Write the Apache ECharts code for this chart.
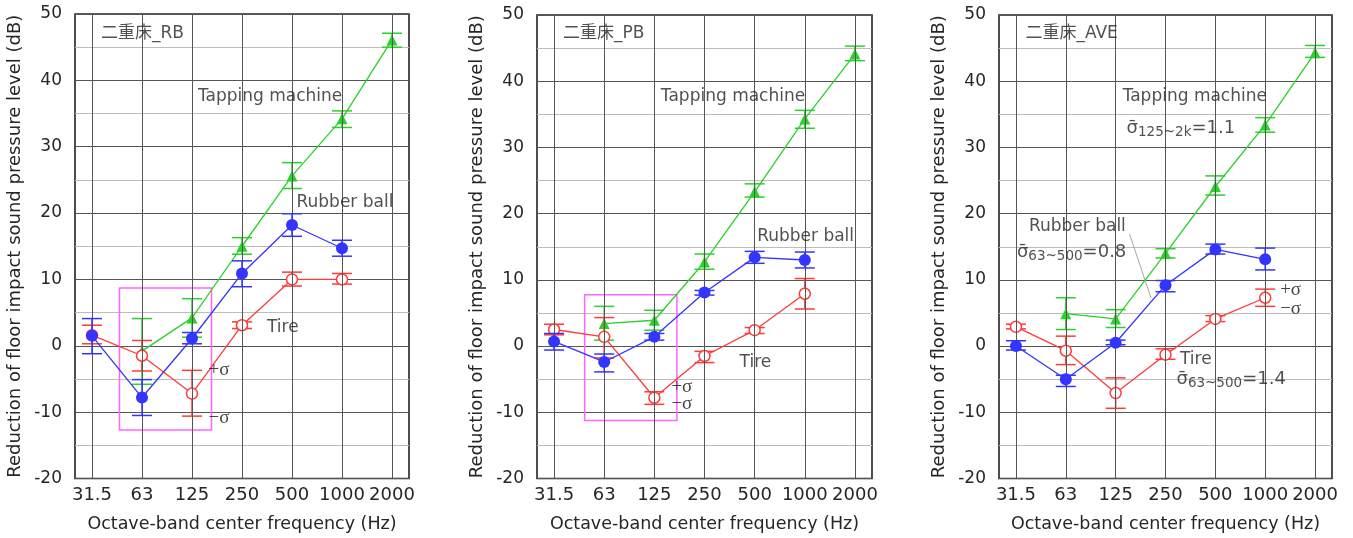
<!DOCTYPE html>
<html><head><meta charset="utf-8">
<script src="https://cdn.jsdelivr.net/npm/echarts@6/dist/echarts.min.js"></script>
<style>html,body{margin:0;padding:0;background:#fff}#c{width:1353px;height:538px}</style>
</head><body><div id="c"></div>
<script>
// ---- data ----
const freqLabels = ['31.5','63','125','250','500','1000','2000'];

// 二重床_RB
const rbRubber   = [1.5, -7.8, 1.1, 10.9, 18.2, 14.7, null];
const rbRubberHi = [4.1, -5.1, 2.0, 12.8, 19.9, 15.9, null];
const rbRubberLo = [-1.2, -10.5, 0.3, 8.9, 16.5, 13.5, null];
const rbTapping   = [null, -0.8, 4.2, 15.0, 25.6, 34.2, 46.1];
const rbTappingHi = [null, 4.1, 7.1, 16.3, 27.6, 35.4, 47.1];
const rbTappingLo = [null, -5.8, 1.3, 13.8, 23.7, 32.9, 45.0];
const rbTire   = [1.6, -1.5, -7.2, 3.1, 10.0, 10.0, null];
const rbTireHi = [3.1, 0.8, -3.7, 3.6, 11.1, 10.9, null];
const rbTireLo = [0.3, -3.8, -10.6, 2.6, 9.0, 9.3, null];

// 二重床_PB
const pbRubber   = [0.7, -2.4, 1.4, 8.1, 13.4, 13.0, null];
const pbRubberHi = [1.9, -1.2, 1.9, 8.4, 14.3, 14.2, null];
const pbRubberLo = [-0.6, -3.9, 0.9, 7.7, 12.5, 11.8, null];
const pbTapping   = [null, 3.4, 3.9, 12.7, 23.3, 34.3, 44.1];
const pbTappingHi = [null, 6.0, 5.4, 13.9, 24.5, 35.6, 45.3];
const pbTappingLo = [null, 0.9, 2.4, 11.6, 22.5, 32.9, 43.1];
const pbTire   = [2.5, 1.4, -7.8, -1.5, 2.4, 7.9, null];
const pbTireHi = [3.3, 4.3, -6.9, -0.8, 2.8, 10.2, null];
const pbTireLo = [1.7, -1.8, -8.8, -2.5, 1.9, 5.6, null];

// 二重床_AVE
const aveRubber   = [0.0, -5.0, 0.5, 9.2, 14.6, 13.1, null];
const aveRubberHi = [0.8, -4.4, 0.9, 9.9, 15.4, 14.8, null];
const aveRubberLo = [-0.6, -6.1, 0.2, 8.2, 13.9, 11.5, null];
const aveTapping   = [null, 4.9, 4.1, 14.0, 24.1, 33.4, 44.3];
const aveTappingHi = [null, 7.3, 5.5, 14.7, 25.7, 34.5, 45.4];
const aveTappingLo = [null, 2.5, 2.8, 13.3, 22.8, 32.3, 43.6];
const aveTire   = [2.9, -0.7, -7.1, -1.3, 4.1, 7.3, null];
const aveTireHi = [3.3, 1.5, -4.8, -0.4, 4.6, 8.6, null];
const aveTireLo = [2.6, -2.8, -9.4, -2.0, 3.7, 6.0, null];

// annotations: [x (band index), y (dB), text, kind]
const rbNotes = [
  [0.17, 47.0, '二重床_RB', 't'],
  [2.11, 37.6, 'Tapping machine', 't'],
  [4.08, 21.6, 'Rubber ball', 't'],
  [3.49, 2.7, 'Tire', 't'],
  [2.32, -3.6, '+σ', 'sig'],
  [2.32, -10.9, '−σ', 'sig']
];
const pbNotes = [
  [0.17, 47.25, '二重床_PB', 't'],
  [2.12, 37.75, 'Tapping machine', 't'],
  [4.04, 16.6, 'Rubber ball', 't'],
  [3.69, -2.5, 'Tire', 't'],
  [2.33, -6.25, '+σ', 'sig'],
  [2.33, -8.75, '−σ', 'sig']
];
const aveNotes = [
  [0.18, 47.25, '二重床_AVE', 't'],
  [2.13, 37.75, 'Tapping machine', 't'],
  [2.21, 32.8, 'σ̄|125~2k|=1.1', 'bar'],
  [0.25, 18.1, 'Rubber ball', 't'],
  [0.01, 14.0, 'σ̄|63~500|=0.8', 'bar'],
  [3.28, -2.0, 'Tire', 't'],
  [3.21, -5.2, 'σ̄|63~500|=1.4', 'bar'],
  [5.29, 8.5, '+σ', 'sig'],
  [5.29, 5.65, '−σ', 'sig']
];
const rbBox = [[0.55, 8.7], [2.39, -12.7]];
const pbBox = [[0.61, 7.75], [2.45, -11.25]];
const aveLeader = [[2.28, 16.9], [2.71, 7.25]];

// ---- chart ----
const FONT = '"DejaVu Sans", "Noto Sans CJK JP", sans-serif';
const GREEN = '#2ad12a', BLUE = '#3434ff', RED = '#ff3a3a', MAGENTA = '#ff66ff', TXT = '#262626';

const panels = [
  {left: 75, top: 14, width: 334, height: 466,
   rubber: [rbRubber, rbRubberHi, rbRubberLo], tapping: [rbTapping, rbTappingHi, rbTappingLo], tire: [rbTire, rbTireHi, rbTireLo],
   notes: rbNotes, box: rbBox},
  {left: 537, top: 15, width: 335, height: 465,
   rubber: [pbRubber, pbRubberHi, pbRubberLo], tapping: [pbTapping, pbTappingHi, pbTappingLo], tire: [pbTire, pbTireHi, pbTireLo],
   notes: pbNotes, box: pbBox},
  {left: 999, top: 15, width: 333, height: 466,
   rubber: [aveRubber, aveRubberHi, aveRubberLo], tapping: [aveTapping, aveTappingHi, aveTappingLo], tire: [aveTire, aveTireHi, aveTireLo],
   notes: aveNotes, leader: aveLeader}
];

function pts(arr) { return arr.map((v, k) => v == null ? null : [k, v]).filter(Boolean); }

function errSeries(i, trip, color, z) {
  const [m, hi, lo] = trip;
  return {
    type: 'custom', xAxisIndex: i, yAxisIndex: i, z: z, silent: true, clip: false,
    data: m.map((v, k) => v == null ? null : [k, lo[k], hi[k]]).filter(Boolean),
    encode: {x: 0, y: [1, 2]},
    renderItem: (params, api) => {
      const x = api.value(0);
      const a = api.coord([x, api.value(1)]);
      const b = api.coord([x, api.value(2)]);
      const w = 10;
      const style = {stroke: color, lineWidth: 1.5, fill: null};
      return {type: 'group', children: [
        {type: 'line', shape: {x1: a[0], y1: a[1], x2: b[0], y2: b[1]}, style: style},
        {type: 'line', shape: {x1: a[0] - w, y1: a[1], x2: a[0] + w, y2: a[1]}, style: style},
        {type: 'line', shape: {x1: b[0] - w, y1: b[1], x2: b[0] + w, y2: b[1]}, style: style}
      ]};
    }
  };
}

const grid = [], xAxis = [], yAxis = [], series = [];
panels.forEach((p, i) => {
  grid.push({left: p.left, top: p.top, width: p.width, height: p.height, show: true,
    borderColor: '#222', borderWidth: 1.6, backgroundColor: 'transparent'});
  xAxis.push({type: 'value', gridIndex: i, min: -0.34, max: 6.34,
    axisLine: {show: false}, axisTick: {show: false}, splitLine: {show: false},
    axisLabel: {customValues: [0, 1, 2, 3, 4, 5, 6], formatter: v => freqLabels[Math.round(v)],
      fontSize: 18, color: TXT, fontFamily: FONT, margin: 8},
    name: 'Octave-band center frequency (Hz)', nameLocation: 'middle', nameGap: 37,
    nameTextStyle: {fontSize: 17.5, color: TXT, fontFamily: FONT}});
  yAxis.push({type: 'value', gridIndex: i, min: -20, max: 50, interval: 10,
    axisLine: {show: false}, axisTick: {show: false},
    axisLabel: {fontSize: 17, color: TXT, fontFamily: FONT, margin: 13},
    splitLine: {show: true, lineStyle: {color: '#555', width: 1}},
    minorTick: {show: false, splitNumber: 2},
    minorSplitLine: {show: true, lineStyle: {color: '#bdbdbd', width: 1}},
    name: 'Reduction of floor impact sound pressure level (dB)', nameLocation: 'middle', nameGap: 51, nameRotate: 90,
    nameTextStyle: {fontSize: 18, color: TXT, fontFamily: FONT}});

  // vertical band grid lines (+ optional highlight box)
  const helper = {type: 'line', xAxisIndex: i, yAxisIndex: i, data: [], silent: true, z: 1,
    markLine: {symbol: 'none', silent: true, animation: false, label: {show: false},
      lineStyle: {color: '#555', width: 1, type: 'solid'},
      data: freqLabels.map((_, k) => ({xAxis: k}))}};
  if (p.box) {
    helper.markArea = {silent: true, label: {show: false},
      itemStyle: {color: 'rgba(0,0,0,0)', borderColor: MAGENTA, borderWidth: 1.5},
      data: [[{coord: p.box[0]}, {coord: p.box[1]}]]};
  }
  series.push(helper);

  if (p.leader) {
    series.push({type: 'line', xAxisIndex: i, yAxisIndex: i, data: p.leader, symbol: 'none', silent: true, z: 2,
      lineStyle: {color: '#a8a8a8', width: 1}});
  }

  // Tapping machine
  series.push(errSeries(i, p.tapping, GREEN, 3));
  series.push({type: 'line', xAxisIndex: i, yAxisIndex: i, data: pts(p.tapping[0]), z: 3,
    symbol: 'triangle', symbolSize: 11, lineStyle: {color: GREEN, width: 1.3},
    itemStyle: {color: GREEN}});
  // Tire
  series.push(errSeries(i, p.tire, RED, 4));
  series.push({type: 'line', xAxisIndex: i, yAxisIndex: i, data: pts(p.tire[0]), z: 4,
    symbol: 'circle', symbolSize: 11, showAllSymbol: true, lineStyle: {color: RED, width: 1.3},
    itemStyle: {color: '#fff', borderColor: RED, borderWidth: 1.5}});
  // Rubber ball
  series.push(errSeries(i, p.rubber, BLUE, 5));
  series.push({type: 'line', xAxisIndex: i, yAxisIndex: i, data: pts(p.rubber[0]), z: 5,
    symbol: 'circle', symbolSize: 12, lineStyle: {color: BLUE, width: 1.3},
    itemStyle: {color: BLUE}});

  // annotations
  series.push({type: 'scatter', xAxisIndex: i, yAxisIndex: i, z: 6, silent: true,
    symbolSize: 1, itemStyle: {color: 'rgba(0,0,0,0)'},
    data: p.notes.map(n => ({value: [n[0], n[1]], text: n[2], kind: n[3]})),
    label: {show: true, position: 'right', distance: 0, color: TXT, fontSize: 17, fontFamily: FONT,
      formatter: q => {
        const d = q.data;
        if (d.kind === 'sig') return '{sg|' + d.text + '}';
        if (d.kind === 'bar') {
          const parts = d.text.split('|');
          return '{s|' + parts[0] + '}{sub|' + parts[1] + '}{s|' + parts[2] + '}';
        }
        return d.text;
      },
      rich: {
        sg: {fontFamily: '"Liberation Serif", serif', fontSize: 19, color: '#111'},
        s: {fontSize: 18, fontFamily: FONT, color: TXT, lineHeight: 20, verticalAlign: 'top'},
        sub: {fontSize: 13.5, fontFamily: FONT, color: TXT, lineHeight: 14, padding: [12, 0, 0, 0], verticalAlign: 'bottom'}
      }}});
});

const chart = echarts.init(document.getElementById('c'), null, {renderer: 'canvas'});
chart.setOption({animation: false, backgroundColor: '#fff', grid, xAxis, yAxis, series});
</script></body></html>
